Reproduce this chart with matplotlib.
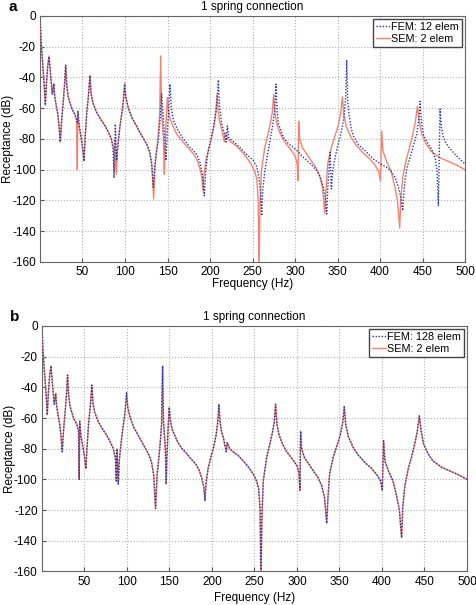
import matplotlib
matplotlib.use("Agg")
import matplotlib.pyplot as plt

plt.rcParams['font.family'] = ['Liberation Sans', 'DejaVu Sans']
plt.rcParams['axes.unicode_minus'] = False

# SEM (2 elem) receptance (same curve in both panels)
sem_freq = [0.5, 1.5, 3, 5, 6.3, 7.5, 9, 10.6, 12, 13.5, 14.5, 16.3, 17.3, 19, 21, 22.5, 23.9,
            25.5, 27.5, 29, 30.2, 31.5, 33, 35, 38, 41, 43, 43.9, 44.5, 46, 48, 50, 51.8, 53, 55,
            57, 58.8, 60, 62, 66, 70, 76, 80, 84, 86.5, 87.6, 88.3, 89.8, 91, 94, 97, 98.5, 99.6,
            101, 104, 108, 113, 118, 122, 126, 129, 131.5, 133.7, 135.5, 137.6, 139.5, 140.8, 142,
            143, 144, 145.2, 146.3, 147, 148.5, 149.8, 151, 153, 156, 160, 165, 170, 176, 181, 185,
            188, 190.5, 191.8, 193, 195.5, 199, 202, 205, 206.8, 208.2, 209.5, 211, 213.5, 216.9,
            218, 221, 226, 231, 237, 243, 248, 252.5, 255, 256.7, 257.6, 258.8, 260.4, 264.3, 268,
            271, 273.2, 274.9, 276.5, 279, 283, 288, 295, 300, 302.5, 303.5, 304.3, 305.5, 309,
            314, 320, 325, 329, 332.5, 335, 336.5, 338.5, 342.7, 347, 351, 353.8, 355.7, 357.3,
            360.4, 366, 372, 380, 388, 394, 398.5, 400.4, 401.9, 403.5, 408, 413, 417.3, 420.5,
            423.1, 424.5, 427, 431, 435, 438.5, 441.5, 444, 446, 449, 454, 460, 470, 480, 490, 500]
sem_db = [-7, -18, -30, -45, -58, -45, -33, -26, -35, -45, -51, -44, -52, -58, -64, -72, -82,
          -68, -55, -44, -32, -45, -52, -56, -61, -64, -68, -100, -62, -72, -78, -85, -93, -80, -63,
          -52, -38.5, -50, -56, -62, -66, -71, -75, -80, -86, -101, -80, -103, -88, -72, -60, -52, -43.5,
          -53, -60, -66, -71, -76, -80, -84, -89, -97, -119, -97, -86, -74, -64, -26,
          -62, -70, -80, -103, -86, -66, -53, -61, -67, -71, -76, -80, -83, -87, -90, -94,
          -99, -105, -114, -103, -93, -85, -79, -71, -63, -51, -62, -68, -73, -82,
          -76, -80, -82.5, -84.5, -88, -92, -96, -101, -106, -120, -168, -125, -101, -86, -77,
          -70, -63, -51, -64, -71, -77, -82, -87, -91, -96, -107, -68.6, -80, -86,
          -90, -95, -99, -104, -112, -128.6, -112, -96, -85.6, -78, -71, -63, -52.6, -64,
          -72, -79, -84, -89, -93, -97, -101, -107.4, -74.8, -88, -95, -101, -111, -120,
          -138, -118, -104, -93, -85, -77, -69, -58.6, -68, -77, -83, -88, -92, -94.5, -97, -100]

# FEM with 12 elements (panel a)
fem12_freq = [0.5, 1.5, 3, 5, 6.3, 7.5, 9, 10.6, 12, 13.5, 14.5, 16.3, 17.3, 19, 21, 22.5, 23.9,
              25.5, 27.5, 29, 30.2, 31.5, 33, 35, 38, 41, 43, 44, 44.7, 46, 48, 50, 51.8, 53, 55,
              57, 58.8, 60, 62, 66, 70, 76, 80, 84, 86, 87.1, 88.6, 90.2, 91.5, 94, 97, 98.5, 99.6,
              101, 104, 108, 113, 117.6, 122, 126, 129, 131.5, 133.3, 135, 137, 139.2, 141.5, 143.1,
              144.5, 146.5, 148.2, 149.5, 151.5, 152.9, 154.5, 157, 162, 168.6, 176, 184.3, 188, 191,
              193.3, 195, 197, 201, 204, 207, 208.7, 209.8, 211, 213.7, 217.5, 219, 220.4, 222, 228,
              235, 243, 251, 254.9, 257.5, 259.5, 260.8, 262, 264.7, 268, 270.6, 273.5, 276, 277.6,
              279, 280.4, 286.3, 292, 298, 304, 309.8, 318, 325.5, 330, 333.3, 335.5, 337.3, 338.5,
              339.6, 341.2, 342.7, 344.5, 347.1, 350, 353, 356, 358, 359.7, 360.8, 362, 363.5, 366,
              368.6, 375, 382.4, 392, 400, 407.8, 413, 417.6, 421.5, 424.5, 426.7, 428, 429.4, 432,
              435.3, 439, 443.1, 445.5, 447.1, 448.5, 451, 455, 460, 464.7, 467, 468.6, 469.5, 470.6,
              472, 474.5, 478, 482.4, 490, 500]
fem12_db = [-7, -18, -30, -45, -58, -45, -33, -26.5, -35, -45, -51, -44, -52, -58, -64, -72, -82,
            -68, -55, -44, -32, -45, -52, -56, -61, -64, -67, -70, -61.6, -70, -78, -86, -94.6, -80, -63,
            -52, -38.8, -50, -56, -62, -66, -71, -75, -80, -87, -105.4, -70.3, -94, -85, -72, -61, -53, -44.3,
            -53, -60, -66, -71, -76, -80, -84, -88, -96, -111.4, -97, -88, -81, -66, -50.7,
            -62, -78, -94, -78, -60, -44.3, -60, -68, -74, -80, -85, -90, -95, -103,
            -117, -100, -91, -80, -72, -62, -52, -41.6, -58, -70, -78, -82, -71.6, -79, -82,
            -85.5, -90, -94, -98, -105, -115, -130, -113, -100, -89, -81, -72, -62, -44.3,
            -62, -70, -79, -83, -85.5, -88.5, -92, -96, -100.6, -105, -111.4, -118, -128.8, -112,
            -103, -88.7, -112.5, -100, -92, -85, -79, -71, -64, -52, -28.6, -55, -64, -73,
            -78, -84, -87.6, -93, -96, -98.5, -101, -105, -111, -118, -126.7, -115, -107, -98,
            -92, -85, -77, -68, -55.5, -68, -77, -82, -86, -92, -100, -123.4, -95, -60.5,
            -72, -79, -83, -86.5, -91, -96.3]

# FEM with 128 elements (panel b) lies on top of the SEM curve
fem128_freq = sem_freq
fem128_db = sem_db

panels = [("a", "FEM: 12 elem", fem12_freq, fem12_db, 0),
          ("b", "FEM: 128 elem", fem128_freq, fem128_db, 3)]
xticks = list(range(50, 501, 50))
yticks = list(range(-160, 1, 20))

fig = plt.figure(figsize=(4.76, 6.05), dpi=100)
rects = [[0.084, 0.567, 0.893, 0.4066], [0.088, 0.0554, 0.893, 0.4058]]

for rect, (tag, fem_label, ff, fd, xpad) in zip(rects, panels):
    ax = fig.add_axes(rect)
    ax.plot(sem_freq, sem_db, color='#f4836f', lw=1.0, label='SEM: 2 elem', zorder=3)
    ax.plot(ff, fd, color='#2a3aa8', lw=1.0, ls=(0, (1, 1.2)), label=fem_label, zorder=4)
    ax.set_xlim(0, 500)
    ax.set_ylim(-160, 0)
    ax.set_xticks(xticks)
    ax.set_yticks(yticks)
    ax.grid(True, ls=':', color='#b0b0b0', lw=0.8)
    ax.tick_params(direction='in', length=3, labelsize=8.5, color='#555555', pad=3)
    for sp in ax.spines.values():
        sp.set_color('#666666')
    ax.set_xlabel('Frequency (Hz)', fontsize=8.5, labelpad=xpad)
    ax.set_ylabel('Receptance (dB)', fontsize=8.5)
    ax.yaxis.set_label_coords(-0.062, 0.5)
    ax.set_title('1 spring connection', fontsize=8.5, pad=4)
    handles, labels = ax.get_legend_handles_labels()
    ax.legend(handles[::-1], labels[::-1], loc='upper right', fontsize=7.8, fancybox=False,
              edgecolor='#444444', framealpha=1, borderpad=0.25, labelspacing=0.2,
              handlelength=1.3, handletextpad=0.1, borderaxespad=0.3)
    ax.text(-0.075, 1.035, tag, transform=ax.transAxes, fontsize=11, fontweight='bold',
            ha='left', va='center')

fig.savefig('out.png', dpi=100)
